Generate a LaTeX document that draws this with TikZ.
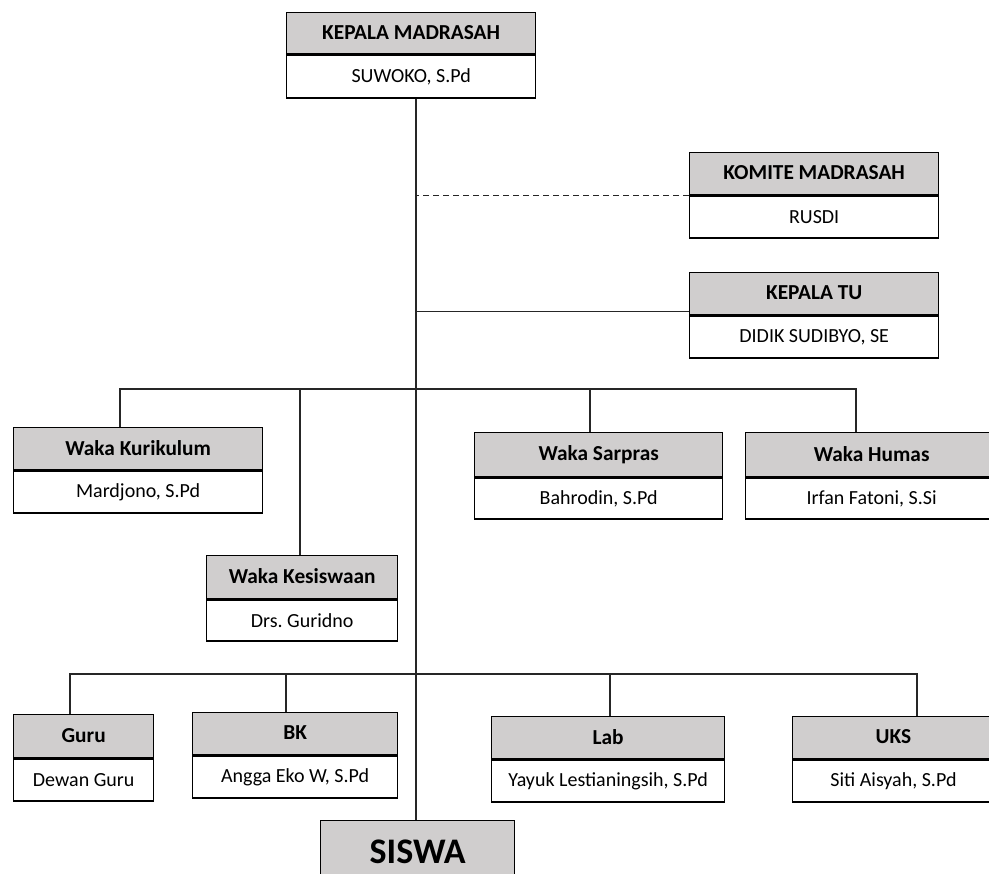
\documentclass[tikz,border=0pt]{standalone}
\usepackage{fontspec}
\setmainfont{Carlito}
\usetikzlibrary{calc}
\definecolor{hdrgray}{RGB}{208,206,206}
\tikzset{
  hdrbox/.style={draw=black, line width=1pt, fill=hdrgray, inner sep=0pt, anchor=north west,
    font=\fontsize{16}{18}\selectfont\bfseries},
  namebox/.style={draw=black, line width=1pt, fill=white, inner sep=0pt, anchor=north west,
    font=\fontsize{15}{17}\selectfont},
  divider/.style={line width=1.8pt},
  link/.style={line width=1pt, draw=black!85},
  dlink/.style={link, dash pattern=on 4.5pt off 3pt},
}
\newcommand\obox[8]{% name, x, y, width, header h, name h, header, person
  \node[hdrbox, minimum width=#4*0.75pt, minimum height=#5*0.75pt] (#1h) at (#2,#3) {\raisebox{1.5pt}{#7}};
  \node[namebox, minimum width=#4*0.75pt, minimum height=#6*0.75pt] (#1n) at (#1h.south west) {#8};
  \draw[divider] (#1h.south west) -- (#1h.south east);
}
\begin{document}
\begin{tikzpicture}[x=0.75pt,y=-0.75pt]
\useasboundingbox (0,0) rectangle (989,874);
\clip (0,0) rectangle (989,874);
\fill[white] (0,0) rectangle (989,874);
\coordinate (spine) at (416,0);
% boxes
\obox{kep}{286}{12}{249}{41}{43}{KEPALA MADRASAH}{SUWOKO, S.Pd}
\obox{kom}{689}{152}{249}{42}{42}{KOMITE MADRASAH}{RUSDI}
\obox{tu}{689}{272}{249}{42}{42}{KEPALA TU}{DIDIK SUDIBYO, SE}
\obox{kur}{13}{427}{249}{42}{42}{Waka Kurikulum}{Mardjono, S.Pd}
\obox{kes}{206}{555}{191}{43}{41}{Waka Kesiswaan}{Drs.\ Guridno}
\obox{sar}{474}{432}{248}{44}{41}{Waka Sarpras}{Bahrodin, S.Pd}
\obox{hum}{745}{432}{260}{44}{41}{\hspace*{-6pt}Waka Humas}{\hspace*{-6pt}Irfan Fatoni, S.Si}
\obox{gur}{13}{714}{140}{43}{42}{Guru}{Dewan Guru}
\obox{bk}{192}{712}{205}{42}{42}{BK}{Angga Eko W, S.Pd}
\obox{lab}{491}{716}{233}{42}{42}{Lab}{Yayuk Lestianingsih, S.Pd}
\obox{uks}{792}{716}{215}{42}{42}{\hspace*{-10pt}UKS}{\hspace*{-10pt}Siti Aisyah, S.Pd}
\node[hdrbox, minimum width=194*0.75pt, minimum height=62*0.75pt,
  font=\fontsize{27}{30}\selectfont\bfseries] (siswa) at (320,820) {SISWA};
% spine
\draw[link] (kepn.south -| spine) -- (siswa.north -| spine);
% komite (dashed) and TU
\draw[dlink] (komh.south west) -- (komh.south west -| spine);
\coordinate (tuj) at ($(tuh.south west)+(0,-4)$);
\draw[link] (tuj) -- (tuj -| spine);
% drop points
\coordinate (kurd) at ($(kurh.north west)+(107,0)$);
\coordinate (kesd) at ($(kesh.north west)+(94,0)$);
\coordinate (sard) at ($(sarh.north west)+(116,0)$);
\coordinate (humd) at ($(humh.north west)+(111,0)$);
\coordinate (gurd) at ($(gurh.north west)+(57,0)$);
\coordinate (bkd) at ($(bkh.north west)+(94,0)$);
\coordinate (labd) at ($(labh.north west)+(119,0)$);
\coordinate (uksd) at ($(uksh.north west)+(125,0)$);
% bus 1
\coordinate (bus1) at (0,389);
\draw[link] (kurd) -- (kurd |- bus1) -- (humd |- bus1) -- (humd);
\draw[link] (kesd) -- (kesd |- bus1);
\draw[link] (sard) -- (sard |- bus1);
% bus 2
\coordinate (bus2) at (0,674);
\draw[link] (gurd) -- (gurd |- bus2) -- (uksd |- bus2) -- (uksd);
\draw[link] (bkd) -- (bkd |- bus2);
\draw[link] (labd) -- (labd |- bus2);
\end{tikzpicture}
\end{document}
